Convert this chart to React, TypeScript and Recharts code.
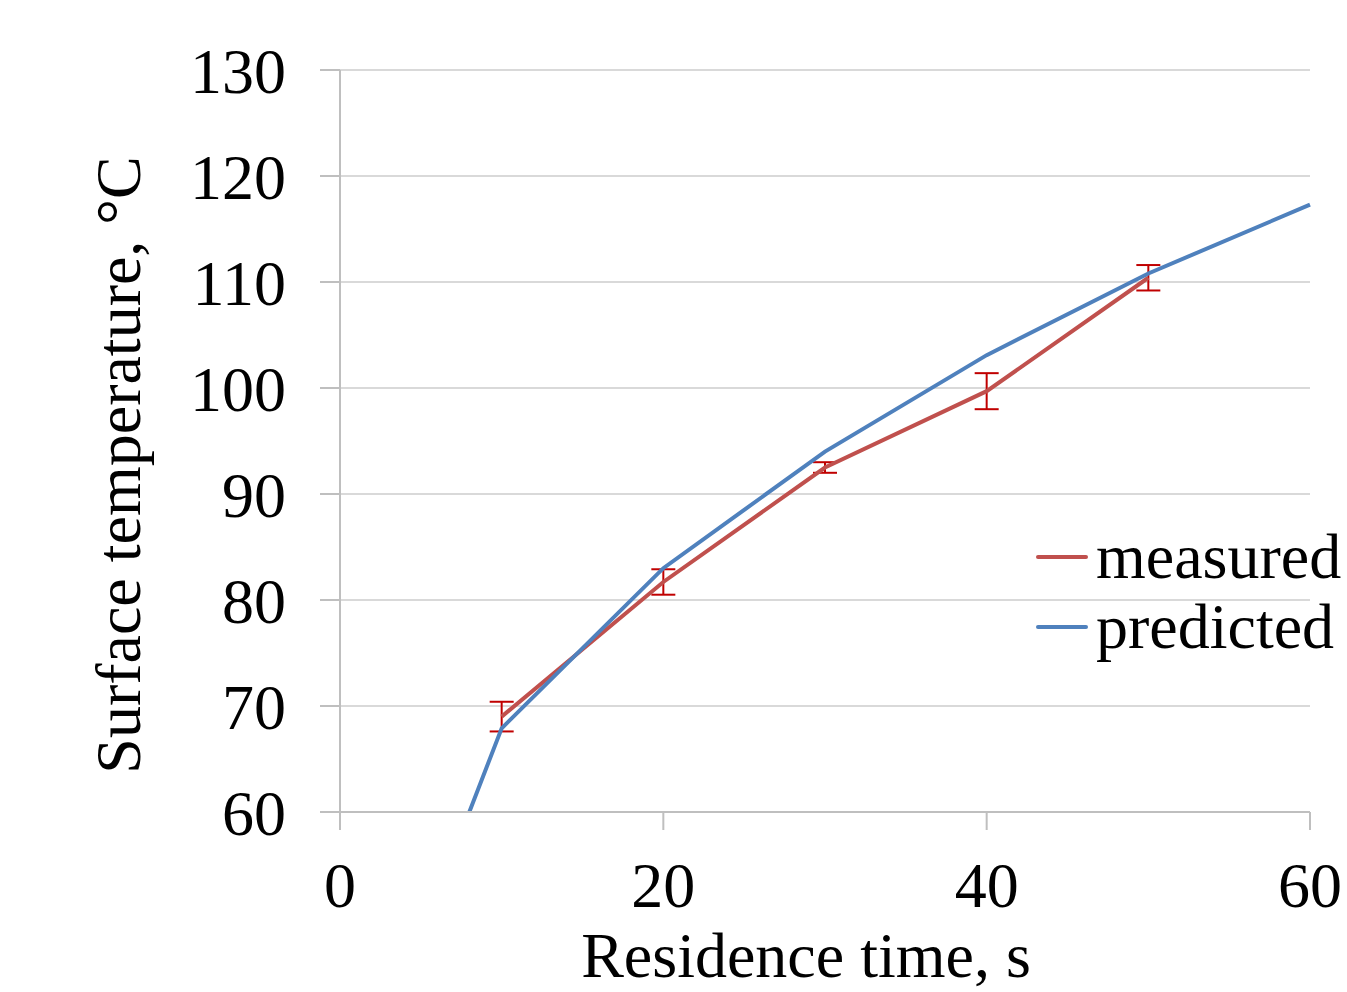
import {
  LineChart,
  Line,
  XAxis,
  YAxis,
  CartesianGrid,
  Legend,
  ErrorBar,
  Label,
} from "recharts";

const FONT = '"Liberation Serif", "Times New Roman", serif';
const FS = 64;

// measured surface temperature with error bars
const measuredTime = [10, 20, 30, 40, 50];
const measuredTemp = [69.0, 81.7, 92.5, 99.7, 110.4];
const measuredErr = [1.4, 1.2, 0.5, 1.7, 1.2];

// model prediction
const predictedTime = [8, 10, 20, 30, 40, 50, 60];
const predictedTemp = [60, 67.9, 83.0, 94.0, 103.1, 110.8, 117.3];

const xTicks = [0, 20, 40, 60];
const yTicks = [60, 70, 80, 90, 100, 110, 120, 130];

const measuredData = measuredTime.map((t, i) => ({
  time: t,
  temp: measuredTemp[i],
  err: measuredErr[i],
}));

const predictedData = predictedTime.map((t, i) => ({
  time: t,
  temp: predictedTemp[i],
}));

const legendItems = [
  { name: "measured", color: "#c0504d" },
  { name: "predicted", color: "#4f81bd" },
];

const renderLegend = () => (
  <div style={{ fontFamily: FONT, fontSize: FS, lineHeight: "70px" }}>
    {legendItems.map((item) => (
      <div key={item.name} style={{ display: "flex", alignItems: "center" }}>
        <span
          style={{
            display: "inline-block",
            width: 52,
            height: 4,
            borderRadius: 2,
            background: item.color,
            marginRight: 8,
          }}
        />
        <span>{item.name}</span>
      </div>
    ))}
  </div>
);

const YLabel = () => (
  <text
    x={140}
    y={465}
    transform="rotate(-90 140 465)"
    textAnchor="middle"
    fontFamily={FONT}
    fontSize={FS}
    fill="#000"
  >
    Surface temperature, °C
  </text>
);

const App = () => {
  return (
    <div style={{ position: "absolute", left: 0, top: 0 }}>
      <LineChart
        width={1347}
        height={992}
        margin={{ top: 70, right: 37, left: 0, bottom: 0 }}
      >
        <CartesianGrid vertical={false} stroke="#d9d9d9" strokeWidth={2} />
        <XAxis
          dataKey="time"
          type="number"
          domain={[0, 60]}
          ticks={xTicks}
          height={180}
          tickSize={18}
          tickMargin={32}
          stroke="#bfbfbf"
          strokeWidth={2}
          tick={{ fill: "#000", fontFamily: FONT, fontSize: FS }}
        >
          <Label
            value="Residence time, s"
            position="insideBottom"
            offset={15}
            dx={-19}
            style={{ fill: "#000", fontFamily: FONT, fontSize: FS }}
          />
        </XAxis>
        <YAxis
          dataKey="temp"
          type="number"
          domain={[60, 130]}
          ticks={yTicks}
          width={340}
          tickSize={20}
          tickMargin={34}
          stroke="#bfbfbf"
          strokeWidth={2}
          allowDataOverflow
          tick={{ fill: "#000", fontFamily: FONT, fontSize: FS }}
        >
          <Label content={YLabel} />
        </YAxis>
        <Legend
          layout="vertical"
          align="center"
          verticalAlign="middle"
          content={renderLegend}
          wrapperStyle={{ left: 1036, top: 522, width: 320 }}
        />
        <Line
          data={measuredData}
          dataKey="temp"
          name="measured"
          type="linear"
          stroke="#c0504d"
          strokeWidth={4}
          dot={false}
          isAnimationActive={false}
        >
          <ErrorBar
            dataKey="err"
            direction="y"
            width={12}
            stroke="#c00000"
            strokeWidth={2}
            isAnimationActive={false}
          />
        </Line>
        <Line
          data={predictedData}
          dataKey="temp"
          name="predicted"
          type="linear"
          stroke="#4f81bd"
          strokeWidth={4}
          dot={false}
          isAnimationActive={false}
        />
      </LineChart>
    </div>
  );
};

export default App;
